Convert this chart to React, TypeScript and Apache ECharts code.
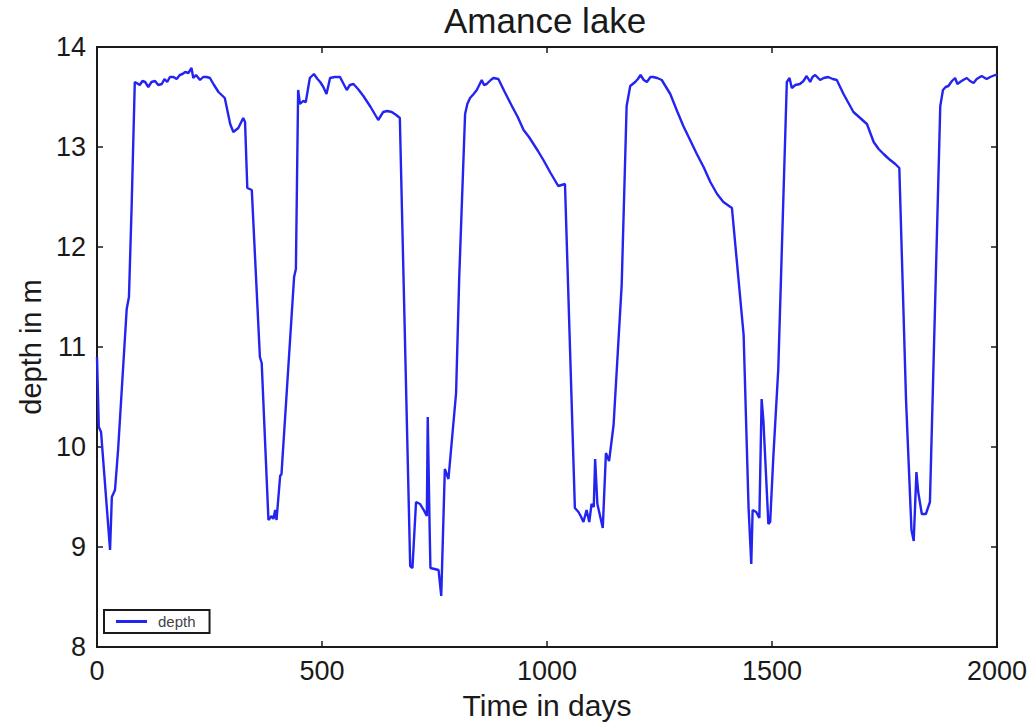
import React, { useEffect, useRef } from "react";
import * as echarts from "echarts";

// Lake depth record: day index and water depth (m)
const days: number[] = [
  0, 4, 9, 29, 33, 40, 47, 66, 71, 77, 84,
  88, 95, 101, 107, 114, 121, 129, 136, 144, 150, 156, 162, 170, 177, 184, 190, 196, 203, 210, 214, 220, 229, 236, 244, 251, 260, 270, 284, 296, 303, 314, 325, 329, 334, 344, 362, 366, 381, 388, 392, 396, 399, 407, 410, 438, 442,
  447, 451, 458, 464, 473, 482, 490, 496, 503, 510, 518, 528, 540, 555, 562, 570, 580, 592, 608, 625, 636, 645, 655, 665, 673,
  696, 701, 709, 718, 726, 733, 735, 739, 741, 759, 765, 773, 781, 798, 805,
  818, 823, 829, 837, 844, 855, 860, 866, 875, 881, 892, 905, 922, 935, 948, 960, 970, 980, 992, 1008, 1025, 1040,
  1062, 1070, 1076, 1081, 1088, 1094, 1099, 1104, 1107, 1112, 1124, 1131, 1138, 1148, 1166,
  1177, 1185, 1196, 1202, 1208, 1215, 1222, 1230, 1236, 1245, 1255, 1274, 1290, 1303, 1318, 1333, 1348, 1363, 1378, 1392, 1411,
  1437, 1448, 1454, 1457, 1465, 1472, 1477, 1481, 1492, 1496, 1503, 1514,
  1533, 1539, 1544, 1552, 1562, 1570, 1577, 1585, 1590, 1596, 1607, 1615, 1625, 1635, 1644, 1659, 1670, 1681, 1696, 1711, 1726, 1737, 1748, 1760, 1774, 1783,
  1798, 1810, 1815, 1821, 1825, 1833, 1842, 1851,
  1874, 1880, 1886, 1892, 1900, 1907, 1912, 1918, 1925, 1933, 1940, 1948, 1955, 1966, 1977, 1985, 1996, 2000,
];

const depth: number[] = [
  10.9, 10.2, 10.15, 8.97, 9.5, 9.57, 9.98, 11.38, 11.5, 12.41, 13.65,
  13.64, 13.62, 13.66, 13.65, 13.6, 13.65, 13.66, 13.62, 13.63, 13.68, 13.65, 13.7, 13.7, 13.68, 13.72, 13.73, 13.75, 13.74, 13.79, 13.69, 13.72, 13.67, 13.7, 13.7, 13.69, 13.62, 13.55, 13.49, 13.23, 13.15, 13.19, 13.29, 13.25, 12.59, 12.57, 10.9, 10.84, 9.27, 9.31, 9.28, 9.37, 9.27, 9.71, 9.73, 11.7, 11.78,
  13.57, 13.43, 13.46, 13.45, 13.69, 13.73, 13.68, 13.65, 13.6, 13.53, 13.69, 13.7, 13.7, 13.57, 13.62, 13.63, 13.58, 13.51, 13.4, 13.27, 13.35, 13.36, 13.35, 13.32, 13.29,
  8.81, 8.79, 9.45, 9.43, 9.37, 9.31, 10.3, 9.23, 8.79, 8.77, 8.51, 9.78, 9.68, 10.54, 11.7,
  13.33, 13.43, 13.49, 13.53, 13.57, 13.67, 13.62, 13.63, 13.67, 13.69, 13.68, 13.56, 13.41, 13.3, 13.17, 13.1, 13.03, 12.96, 12.87, 12.74, 12.61, 12.63,
  9.39, 9.35, 9.3, 9.25, 9.37, 9.25, 9.43, 9.4, 9.88, 9.43, 9.19, 9.94, 9.86, 10.22, 11.62,
  13.41, 13.61, 13.65, 13.68, 13.72, 13.67, 13.65, 13.7, 13.7, 13.69, 13.67, 13.53, 13.35, 13.21, 13.07, 12.93, 12.8, 12.65, 12.53, 12.45, 12.39,
  11.12, 9.39, 8.83, 9.37, 9.35, 9.29, 10.48, 10.26, 9.23, 9.25, 9.9, 10.78,
  13.65, 13.69, 13.59, 13.62, 13.63, 13.66, 13.71, 13.65, 13.7, 13.72, 13.67, 13.69, 13.7, 13.68, 13.67, 13.53, 13.44, 13.35, 13.29, 13.23, 13.05, 12.98, 12.93, 12.88, 12.83, 12.79,
  10.46, 9.17, 9.06, 9.75, 9.55, 9.33, 9.33, 9.45,
  13.41, 13.57, 13.6, 13.61, 13.66, 13.69, 13.63, 13.65, 13.67, 13.69, 13.66, 13.64, 13.68, 13.71, 13.68, 13.7, 13.72, 13.72,
];

const xTicks = { min: 0, max: 2000, interval: 500 };
const yTicks = { min: 8, max: 14, interval: 1 };

const FONT = "'Liberation Sans', Arial, Helvetica, sans-serif";
const INK = "#1a1a1a";

export default function App() {
  const ref = useRef<HTMLDivElement>(null);

  useEffect(() => {
    if (!ref.current) return;
    const chart = echarts.init(ref.current, undefined, { renderer: "svg" });

    const tick = { show: true, inside: true, length: 6, lineStyle: { color: INK, width: 1.5 } };
    const line = { show: true, onZero: false, lineStyle: { color: INK, width: 2 } };
    const label = {
      fontSize: 27,
      color: INK,
      fontFamily: FONT,
      formatter: (v: number) => String(v),
    };

    chart.setOption({
      animation: false,
      backgroundColor: "#ffffff",
      title: {
        text: "Amance lake",
        left: 444,
        top: 3,
        padding: 0,
        textStyle: { fontSize: 35, fontWeight: "normal", color: INK, fontFamily: FONT },
      },
      legend: {
        left: 104,
        top: 610,
        orient: "vertical",
        borderColor: INK,
        borderWidth: 2,
        borderRadius: 0,
        padding: [4, 14, 4, 12],
        itemWidth: 31,
        itemHeight: 3,
        icon: "rect",
        textStyle: { fontSize: 15, color: "#444", fontFamily: FONT, padding: [0, 0, 0, 6] },
        data: ["depth"],
      },
      grid: {
        left: 97,
        top: 47,
        width: 900,
        height: 600,
        show: true,
        borderColor: INK,
        borderWidth: 2,
        backgroundColor: "#ffffff",
      },
      xAxis: [
        {
          type: "value",
          position: "bottom",
          ...xTicks,
          axisLine: line,
          axisTick: tick,
          splitLine: { show: false },
          axisLabel: { ...label, margin: 10 },
          name: "Time in days",
          nameLocation: "middle",
          nameGap: 43,
          nameTextStyle: { fontSize: 30, color: INK, fontFamily: FONT },
        },
        {
          type: "value",
          position: "top",
          ...xTicks,
          axisLine: line,
          axisTick: tick,
          splitLine: { show: false },
          axisLabel: { show: false },
        },
      ],
      yAxis: [
        {
          type: "value",
          position: "left",
          ...yTicks,
          axisLine: line,
          axisTick: tick,
          splitLine: { show: false },
          axisLabel: { ...label, margin: 11 },
          name: "depth in m",
          nameLocation: "middle",
          nameGap: 52,
          nameTextStyle: { fontSize: 29, color: INK, fontFamily: FONT },
        },
        {
          type: "value",
          position: "right",
          ...yTicks,
          axisLine: line,
          axisTick: tick,
          splitLine: { show: false },
          axisLabel: { show: false },
        },
      ],
      series: [
        {
          name: "depth",
          type: "line",
          xAxisIndex: 0,
          yAxisIndex: 0,
          showSymbol: false,
          symbol: "none",
          color: "#2424f0",
          lineStyle: { color: "#2424f0", width: 2.4 },
          data: days.map((d, i) => [d, depth[i]]),
        },
      ],
    });

    return () => chart.dispose();
  }, []);

  return (
    <div
      ref={ref}
      style={{ position: "fixed", left: 0, top: 0, width: 1030, height: 725, background: "#fff" }}
    />
  );
}
